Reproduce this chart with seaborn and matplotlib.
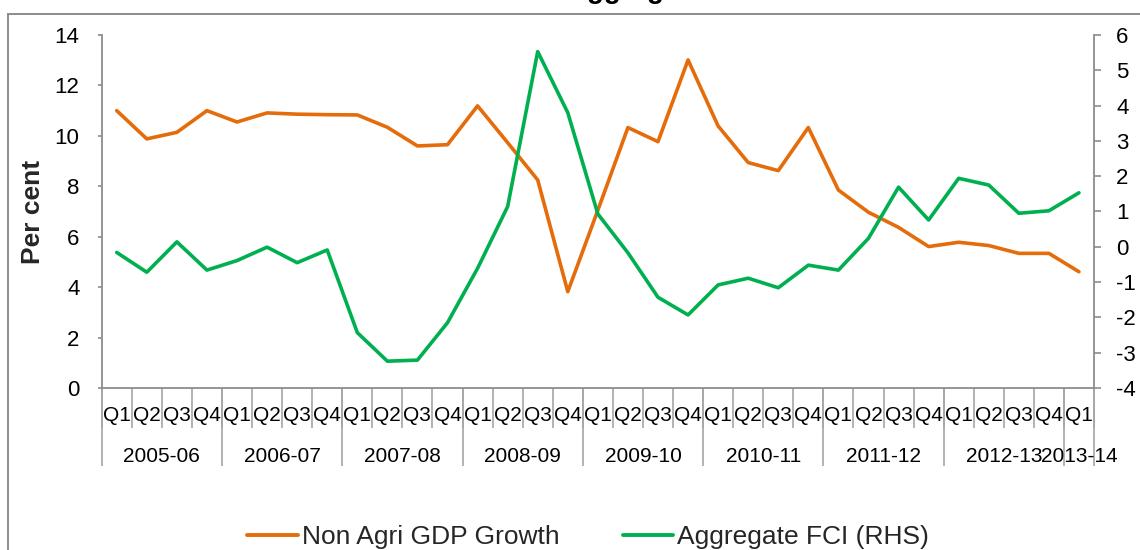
import numpy as np
import pandas as pd
import matplotlib
matplotlib.use("Agg")
import matplotlib.pyplot as plt
import matplotlib.transforms as mtransforms
from matplotlib.patches import Rectangle
from matplotlib.lines import Line2D
import seaborn as sns

# ---- data -------------------------------------------------------------
years = ["2005-06", "2006-07", "2007-08", "2008-09", "2009-10",
         "2010-11", "2011-12", "2012-13", "2013-14"]
quarters = ["Q1", "Q2", "Q3", "Q4"] * 8 + ["Q1"]

non_agri_gdp = [11.0, 9.88, 10.14, 11.0, 10.55, 10.91, 10.86, 10.84,
                10.83, 10.34, 9.6, 9.65, 11.19, 9.73, 8.25, 3.82,
                7.05, 10.33, 9.77, 13.01, 10.39, 8.94, 8.62, 10.33,
                7.85, 6.97, 6.37, 5.61, 5.78, 5.65, 5.34, 5.34, 4.61]

aggregate_fci = [-0.16, -0.72, 0.14, -0.66, -0.39, -0.01, -0.45, -0.09,
                 -2.43, -3.24, -3.21, -2.15, -0.61, 1.14, 5.53, 3.8,
                 0.93, -0.17, -1.43, -1.93, -1.08, -0.89, -1.16, -0.52,
                 -0.66, 0.24, 1.69, 0.76, 1.94, 1.75, 0.95, 1.02, 1.53]

left_ticks = [0, 2, 4, 6, 8, 10, 12, 14]
right_ticks = [-4, -3, -2, -1, 0, 1, 2, 3, 4, 5, 6]

# ---- styling ----------------------------------------------------------
sns.set_theme(style="white")
plt.rcParams["font.family"] = ["Liberation Sans", "DejaVu Sans"]
plt.rcParams["axes.unicode_minus"] = False

ORANGE = "#E46C0A"
GREEN = "#00B050"
AXIS_GREY = "#8C8C8C"

df = pd.DataFrame({"pos": np.arange(len(quarters)),
                   "gdp": non_agri_gdp,
                   "fci": aggregate_fci})

W, H = 1140, 550
fig = plt.figure(figsize=(W / 100, H / 100), dpi=100)
ax = fig.add_axes([101.7 / W, 1 - 388 / H, (1094 - 101.7) / W, (388 - 35) / H])
ax2 = ax.twinx()

sns.lineplot(data=df, x="pos", y="gdp", ax=ax, color=ORANGE, lw=2.6,
             legend=False)
sns.lineplot(data=df, x="pos", y="fci", ax=ax2, color=GREEN, lw=2.6,
             legend=False)

n = len(quarters)
ax.set_xlim(-0.5, n - 0.5)
ax.set_ylim(left_ticks[0], left_ticks[-1])
ax2.set_ylim(right_ticks[0], right_ticks[-1])
ax.set_yticks(left_ticks)
ax2.set_yticks(right_ticks)
ax.set_xlabel("")
ax2.set_xlabel("")
ax2.set_ylabel("")
ax.set_ylabel("Per cent", fontsize=19, fontweight="bold")
ax.yaxis.set_label_coords(-0.057, 0.5)

for a in (ax, ax2):
    a.grid(False)
    for side in ("left", "right", "bottom"):
        a.spines[side].set_color(AXIS_GREY)
        a.spines[side].set_linewidth(1.3)
    a.spines["top"].set_visible(False)

ax.spines["right"].set_visible(False)
ax2.spines["left"].set_visible(False)
ax2.spines["bottom"].set_visible(False)

ax.tick_params(axis="y", which="major", direction="out", length=3,
               width=1.2, color=AXIS_GREY, labelsize=16, pad=13,
               labelcolor="black", left=True)
ax2.tick_params(axis="y", which="major", direction="out", length=5,
                width=1.2, color=AXIS_GREY, labelsize=16, pad=11,
                labelcolor="black", right=True)

# two-level category axis: short separators between quarters,
# long separators between financial years
q1_idx = [i for i, q in enumerate(quarters) if q == "Q1"]
year_bounds = [i - 0.5 for i in q1_idx] + [n - 0.5]
ax.set_xticks(year_bounds)
ax.set_xticks(np.arange(-0.5, n, 1.0), minor=True)
ax.tick_params(axis="x", which="major", direction="out", length=56,
               width=1.2, color="#A6A6A6", labelbottom=False, bottom=True)
ax.tick_params(axis="x", which="minor", direction="out", length=29,
               width=1.2, color="#A6A6A6", labelbottom=False, bottom=True)
ax.xaxis.remove_overlapping_locs = False

trans = mtransforms.blended_transform_factory(ax.transData, ax.transAxes)
for i, q in enumerate(quarters):
    ax.text(i, -0.079, q, transform=trans, ha="center", va="center",
            fontsize=15, color="black")

bounds = q1_idx + [n]
for k, yr in enumerate(years):
    centre = (bounds[k] + bounds[k + 1] - 1) / 2
    ax.text(centre, -0.195, yr, transform=trans, ha="center", va="center",
            fontsize=15, color="black")

# chart frame and title
fig.patches.append(Rectangle((8 / W, -0.05), 1.1, 1.05 - 14 / H,
                             transform=fig.transFigure, fill=False,
                             edgecolor=AXIS_GREY, lw=1.4))
fig.text(567 / W, 1 + 1.5 / H, "Aggregate FCI", ha="left", va="baseline",
         fontsize=20, fontweight="bold", color="black")

handles = [Line2D([], [], color=ORANGE, lw=2.8),
           Line2D([], [], color=GREEN, lw=2.8)]
fig.legend(handles, ["Non Agri GDP Growth", "Aggregate FCI (RHS)"],
           loc="center", bbox_to_anchor=(588 / W, 13 / H), ncol=2,
           frameon=False, fontsize=19, handlelength=1.9,
           handletextpad=0.15, columnspacing=2.4)

fig.savefig("out.png", dpi=100)
